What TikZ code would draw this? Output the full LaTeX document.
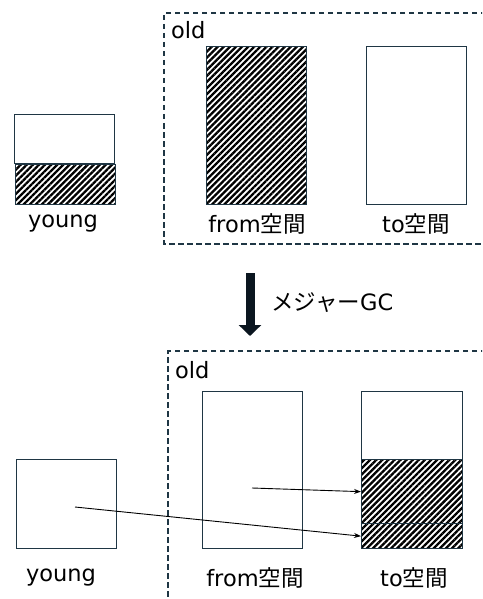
\documentclass[tikz,border=0pt]{standalone}
\usepackage{fontspec}
\setmainfont{DejaVu Sans}
\newfontfamily\jp{Noto Sans CJK JP}
\usetikzlibrary{arrows.meta,patterns.meta}
\definecolor{edge}{HTML}{1F3644}
\definecolor{gcarrow}{HTML}{0B1620}
\tikzset{
  box/.style={draw=edge, line width=1.3pt, rectangle, inner sep=0pt, anchor=north west, fill=white},
  hatch/.style={pattern={Lines[angle=45,distance=4.3pt,line width=2.3pt]}, pattern color=black},
  lbl/.style={font=\fontsize{22.5}{26}\selectfont, inner sep=0pt},
  oldframe/.style={draw=edge, line width=1.2pt, dash pattern=on 5.5pt off 3.5pt},
  mv/.style={draw=black, line width=0.9pt, -{Stealth[length=7pt,width=5pt]}},
}
\begin{document}
\begin{tikzpicture}[x=1pt,y=-1pt]
\useasboundingbox (0,0) rectangle (482,599);
\begin{scope}
\clip (0,0) rectangle (482,599);
\draw[oldframe] (495,13) -| (164,244) -- (495,244);
\draw[oldframe] (495,351) -| (168,620);
\end{scope}
% top
\node[lbl, anchor=west] (old1) at (171,30) {old};
\node[box, minimum width=100pt, minimum height=49pt] (y1top) at (14,114) {};
\node[box, hatch, minimum width=100pt, minimum height=40pt] (y1bot) at (14,163) {};
\node[box, hatch, minimum width=100pt, minimum height=158pt] (from1) at (206,46) {};
\node[box, minimum width=100pt, minimum height=158pt] (to1) at (366,46) {};
\node[lbl] (yl1) at (63,224) {young};
\node[lbl] (fl1) at (257,224) {from{\jp 空間}};
\node[lbl] (tl1) at (416,224) {to{\jp 空間}};
% GC arrow
\coordinate (gcs) at (250,273);
\coordinate (gce) at (250,336);
\draw[draw=gcarrow, line width=9pt, -{Triangle[length=11pt,width=22pt]}] (gcs) -- (gce);
\node[lbl, anchor=west] (gcl) at (271,303) {{\jp メジャー}GC};
% bottom
\node[lbl, anchor=west] (old2) at (175,370) {old};
\node[box, minimum width=100pt, minimum height=157pt] (from2) at (202,391) {};
\node[box, minimum width=101pt, minimum height=68pt] (to2top) at (361,391) {};
\node[box, hatch, minimum width=101pt, minimum height=64pt] (to2mid) at (361,459) {};
\node[box, hatch, minimum width=101pt, minimum height=25pt] (to2bot) at (361,523) {};
\node[box, minimum width=100pt, minimum height=89pt] (y2) at (16,459) {};
\node[lbl] (yl2) at (61,578) {young};
\node[lbl] (fl2) at (255,578) {from{\jp 空間}};
\node[lbl] (tl2) at (414,578) {to{\jp 空間}};
\coordinate (s1) at (252,488);
\coordinate (s2) at (75,507);
\draw[mv] (s1) -- (to2mid.west);
\draw[mv] (s2) -- (to2bot.west);
\end{tikzpicture}
\end{document}
